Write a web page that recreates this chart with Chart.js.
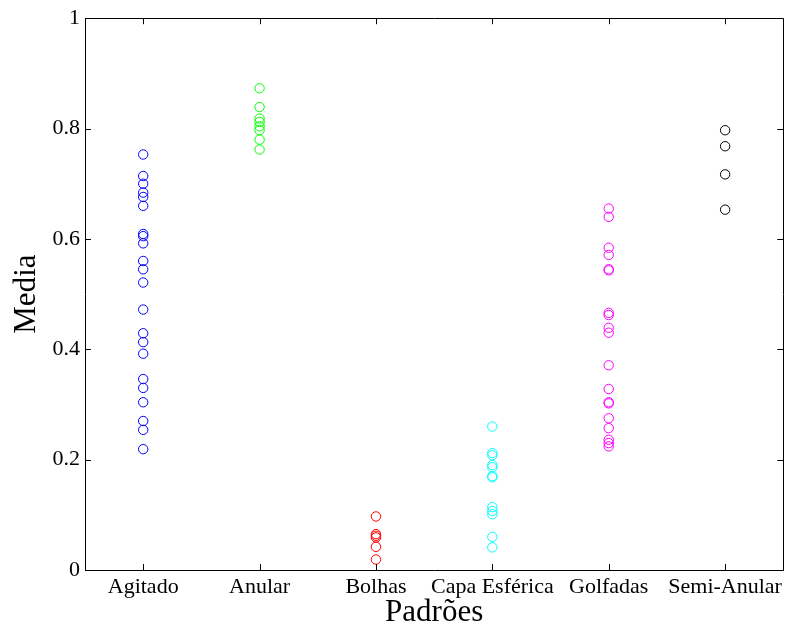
<!DOCTYPE html>
<html>
<head>
<meta charset="utf-8">
<script src="https://cdn.jsdelivr.net/npm/chart.js@4"></script>
<style>
  html, body { margin: 0; padding: 0; background: #fff; }
  #wrap { width: 789px; height: 632px; }
</style>
</head>
<body>
<div id="wrap"><canvas id="scatter" width="789" height="632"></canvas></div>
<script>
//! Data

const categories = ["Agitado", "Anular", "Bolhas", "Capa Esférica", "Golfadas", "Semi-Anular"];
const colors = ["#0000ff", "#00ff00", "#ff0000", "#00ffff", "#ff00ff", "#000000"];

const agitado = [0.753, 0.714, 0.700, 0.684, 0.676, 0.660, 0.609, 0.605, 0.592, 0.560, 0.545,
  0.521, 0.472, 0.429, 0.413, 0.392, 0.346, 0.330, 0.304, 0.270, 0.254, 0.219];
const anular = [0.873, 0.839, 0.818, 0.812, 0.804, 0.797, 0.780, 0.762];
const bolhas = [0.097, 0.065, 0.062, 0.059, 0.042, 0.019];
const capaEsferica = [0.260, 0.212, 0.208, 0.190, 0.186, 0.170, 0.168, 0.114, 0.107, 0.101, 0.060, 0.041];
const golfadas = [0.655, 0.640, 0.584, 0.571, 0.545, 0.543, 0.466, 0.462, 0.439, 0.430, 0.371,
  0.328, 0.304, 0.302, 0.275, 0.257, 0.236, 0.230, 0.224];
const semiAnular = [0.797, 0.768, 0.717, 0.653];

const series = [agitado, anular, bolhas, capaEsferica, golfadas, semiAnular];
const yTicks = [0, 0.2, 0.4, 0.6, 0.8, 1];

//! Box + inward ticks (matlab style)

const boxPlugin = {
  id: "box",
  afterDraw(chart) {
    const { ctx, chartArea: a, scales } = chart;
    const tl = 6;
    ctx.save();
    ctx.strokeStyle = "#000";
    ctx.lineWidth = 1;
    ctx.beginPath();
    ctx.rect(Math.round(a.left) + 0.5, Math.round(a.top) + 0.5,
      Math.round(a.right - a.left), Math.round(a.bottom - a.top));
    scales.x.ticks.forEach((t) => {
      const x = Math.round(scales.x.getPixelForValue(t.value)) + 0.5;
      ctx.moveTo(x, a.bottom); ctx.lineTo(x, a.bottom - tl);
      ctx.moveTo(x, a.top); ctx.lineTo(x, a.top + tl);
    });
    scales.y.ticks.forEach((t) => {
      const y = Math.round(scales.y.getPixelForValue(t.value)) + 0.5;
      ctx.moveTo(a.left, y); ctx.lineTo(a.left + tl, y);
      ctx.moveTo(a.right, y); ctx.lineTo(a.right - tl, y);
    });
    ctx.stroke();
    ctx.restore();
  },
};

//! Chart JS

const chart = document.getElementById("scatter");

new Chart(chart, {
  type: "scatter",
  data: {
    datasets: series.map((vals, i) => ({
      label: categories[i],
      data: vals.map((v) => ({ x: i + 1, y: v })),
      borderColor: colors[i],
      backgroundColor: "rgba(0,0,0,0)",
      borderWidth: 1,
      pointRadius: 4.7,
      pointHoverRadius: 4.7,
    })),
  },
  options: {
    responsive: false,
    animation: false,
    layout: {
      padding: { top: 15, right: 2, left: 0, bottom: 0 },
    },
    plugins: {
      legend: { display: false },
      tooltip: { enabled: false },
    },
    scales: {
      x: {
        type: "linear",
        min: 0.5,
        max: 6.5,
        afterFit: (scale) => { scale.height = 62; },
        afterBuildTicks: (scale) => {
          scale.ticks = categories.map((c, i) => ({ value: i + 1 }));
        },
        grid: { display: false, drawTicks: false },
        border: { display: false },
        ticks: {
          autoSkip: false,
          maxRotation: 0,
          padding: 4,
          color: "#000",
          font: { family: "Liberation Serif", size: 22 },
          callback: (v) => categories[Math.round(v) - 1],
        },
        title: {
          display: true,
          text: "Padrões",
          color: "#000",
          font: { family: "Liberation Serif", size: 31 },
          padding: { top: 0, bottom: 1 },
        },
      },
      y: {
        min: 0,
        max: 1,
        afterFit: (scale) => { scale.width = 85; },
        afterBuildTicks: (scale) => {
          scale.ticks = yTicks.map((v) => ({ value: v }));
        },
        grid: { display: false, drawTicks: false },
        border: { display: false },
        ticks: {
          padding: 5,
          color: "#000",
          font: { family: "Liberation Serif", size: 22 },
          callback: (v) => String(v),
        },
        title: {
          display: true,
          text: "Media",
          color: "#000",
          font: { family: "Liberation Serif", size: 31 },
          padding: { top: 8, bottom: 0 },
        },
      },
    },
  },
  plugins: [boxPlugin],
});
</script>
</body>
</html>
